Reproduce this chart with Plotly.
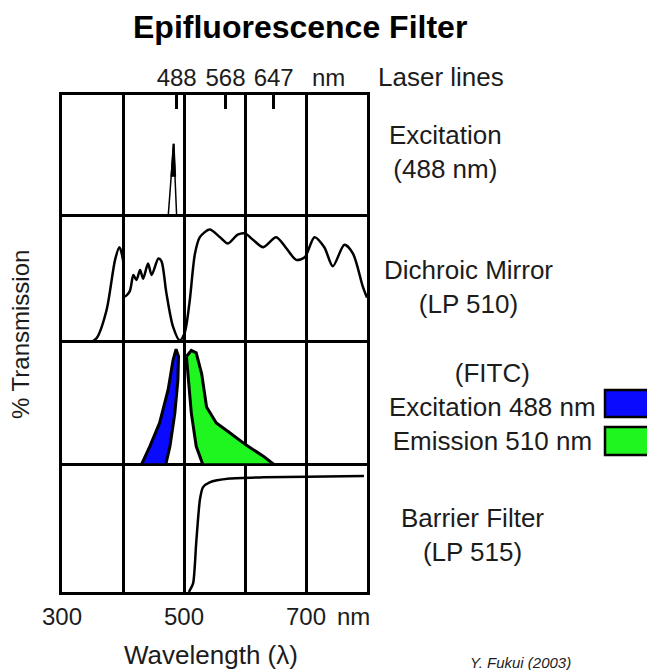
import plotly.graph_objects as go

# ---------------- data ----------------
laser_lines = [488, 568, 647]
laser_labels = ["488", "568", "647"]
x_ticks = [300, 400, 500, 600, 700]
x_tick_labels = ["300", "", "500", "", "700"]

# excitation laser line (488 nm) spike
ex_laser_nm = [474, 483, 488]
ex_laser_t = [0.0, 0.60, 0.0]
ex_core_nm = [479.5, 483, 485.5]
ex_core_t = [0.33, 0.60, 0.33]

# dichroic mirror (LP 510)
dichroic_nm = [349, 357, 373, 387, 394, 400, 403, 411, 417, 422, 428, 433, 441, 447,
               458, 463, 471, 482, 493, 501, 509, 518, 526, 542, 559, 572, 588, 600,
               613, 630, 651, 668, 684, 698, 714, 730, 744, 763, 777, 793, 800]
dichroic_t = [0.01, 0.04, 0.26, 0.66, 0.76, 0.66, 0.37, 0.41, 0.54, 0.50, 0.58, 0.51, 0.63, 0.54,
              0.67, 0.65, 0.40, 0.13, 0.02, 0.08, 0.32, 0.71, 0.84, 0.90, 0.84, 0.79, 0.86, 0.87,
              0.82, 0.76, 0.84, 0.75, 0.66, 0.68, 0.84, 0.76, 0.61, 0.78, 0.71, 0.45, 0.36]

# FITC excitation (blue) outline
fitc_ex_nm = [430, 444, 460, 474, 482, 487, 491, 490, 485, 477, 470, 430]
fitc_ex_t = [0.01, 0.16, 0.35, 0.62, 0.86, 0.95, 0.89, 0.70, 0.43, 0.16, 0.01, 0.01]

# FITC emission (green) outline
fitc_em_nm = [504, 512, 520, 529, 537, 553, 575, 602, 630, 648, 531, 520, 512, 507, 504]
fitc_em_t = [0.89, 0.94, 0.92, 0.75, 0.48, 0.35, 0.27, 0.17, 0.08, 0.01, 0.01, 0.16, 0.43, 0.70, 0.89]

# barrier filter (LP 515)
barrier_nm = [508, 515, 520, 526, 531, 542, 575, 630, 700, 795]
barrier_t = [0.0, 0.07, 0.39, 0.73, 0.83, 0.87, 0.90, 0.91, 0.915, 0.92]

# ---------------- styling ----------------
FONT = "Liberation Sans, Arial, sans-serif"
TXT = "#1c1c1c"
W, H = 647, 670
L, R, T, B = 62, 367, 95, 592   # plot-area pixel box
PW, PH = R - L, B - T


def pp(x, y):
    return dict(x=(x - L) / PW, y=(B - y) / PH, xref="paper", yref="paper")


fig = go.Figure()

# row 1 (top): excitation laser
fig.add_trace(go.Scatter(x=ex_laser_nm, y=ex_laser_t, mode="lines",
                         line=dict(color="black", width=1.5), xaxis="x4", yaxis="y4",
                         hoverinfo="skip", showlegend=False))
fig.add_trace(go.Scatter(x=ex_core_nm, y=ex_core_t, mode="lines", fill="toself",
                         fillcolor="black", line=dict(color="black", width=2),
                         xaxis="x4", yaxis="y4", hoverinfo="skip", showlegend=False))
# laser line labels (top axis)
fig.add_trace(go.Scatter(x=laser_lines, y=[1, 1, 1], mode="markers", marker=dict(opacity=0),
                         xaxis="x5", yaxis="y4", hoverinfo="skip", showlegend=False))

# row 2: dichroic mirror
fig.add_trace(go.Scatter(x=dichroic_nm, y=dichroic_t, mode="lines",
                         line=dict(color="black", width=2.5, shape="spline", smoothing=0.8),
                         xaxis="x3", yaxis="y3", hoverinfo="skip", showlegend=False))

# row 3: FITC
fig.add_trace(go.Scatter(x=fitc_ex_nm, y=fitc_ex_t, mode="lines", fill="toself",
                         fillcolor="#0a0aff", line=dict(color="black", width=3),
                         xaxis="x2", yaxis="y2", hoverinfo="skip", showlegend=False))
fig.add_trace(go.Scatter(x=fitc_em_nm, y=fitc_em_t, mode="lines", fill="toself",
                         fillcolor="#1ff51f", line=dict(color="black", width=3),
                         xaxis="x2", yaxis="y2", hoverinfo="skip", showlegend=False))

# row 4: barrier filter
fig.add_trace(go.Scatter(x=barrier_nm, y=barrier_t, mode="lines",
                         line=dict(color="black", width=2.5, shape="spline", smoothing=0.6),
                         xaxis="x", yaxis="y", hoverinfo="skip", showlegend=False))

bounds = [T, 217, 343, 466, B]
doms = [((B - bounds[i + 1]) / PH, (B - bounds[i]) / PH) for i in range(4)]
# doms[0] = top row ... doms[3] = bottom row

xcommon = dict(range=[300, 800], tickvals=x_ticks, showgrid=True, gridcolor="black",
               gridwidth=2.5, zeroline=False, showline=True, linecolor="black",
               linewidth=3, fixedrange=True)
ycommon = dict(range=[0, 1], showgrid=False, zeroline=False, showticklabels=False,
               showline=True, linecolor="black", linewidth=3, mirror=True, ticks="",
               fixedrange=True)

layout = dict(
    width=W, height=H,
    margin=dict(l=L, r=W - R, t=T, b=H - B),
    paper_bgcolor="white", plot_bgcolor="white",
    font=dict(family=FONT, color=TXT, size=24),
    xaxis=dict(**xcommon, anchor="y", mirror=True, ticktext=x_tick_labels, ticks="outside",
               ticklen=1, tickcolor="rgba(0,0,0,0)",
               tickfont=dict(size=24, family=FONT, color=TXT)),
    yaxis=dict(**ycommon, domain=list(doms[3]), anchor="x"),
    xaxis2=dict(**xcommon, anchor="y2", side="top", matches="x", showticklabels=False, ticks=""),
    yaxis2=dict(**ycommon, domain=list(doms[2]), anchor="x2"),
    xaxis3=dict(**xcommon, anchor="y3", side="top", matches="x", showticklabels=False, ticks=""),
    yaxis3=dict(**ycommon, domain=list(doms[1]), anchor="x3"),
    xaxis4=dict(**xcommon, anchor="y4", side="top", matches="x", showticklabels=False, ticks=""),
    yaxis4=dict(**ycommon, domain=list(doms[0]), anchor="x4"),
    xaxis5=dict(range=[300, 800], overlaying="x4", anchor="y4", side="top",
                tickvals=laser_lines, ticktext=laser_labels, ticks="inside",
                ticklen=14, tickwidth=2.5, tickcolor="black", showgrid=False,
                zeroline=False, showline=False, fixedrange=True, ticklabelstandoff=3,
                tickfont=dict(size=24, family=FONT, color=TXT)),
)
fig.update_layout(**layout)

annos = [
    ("<b>Epifluorescence Filter</b>", 300, 27, 32, "black", 0),
    ("nm", 328, 77, 24, TXT, 0),
    ("Laser lines", 441, 77, 26, TXT, 0),
    ("Excitation<br>(488 nm)", 445, 152, 26, TXT, 0),
    ("Dichroic Mirror<br>(LP 510)", 468, 287, 26, TXT, 0),
    ("(FITC)<br>Excitation 488 nm<br>Emission 510 nm", 492, 407, 26, TXT, 0),
    ("Barrier Filter<br>(LP 515)", 472, 535, 26, TXT, 0),
    ("nm", 353, 616, 24, TXT, 0),
    ("Wavelength (λ)", 211, 655, 26, TXT, 0),
    ("% Transmission", 20, 335, 24, TXT, -90),
    ("<i>Y. Fukui (2003)</i>", 520, 662, 15, TXT, 0),
]
for text, x, y, size, color, ang in annos:
    fig.add_annotation(**pp(x, y), text=text, showarrow=False, xanchor="center",
                       yanchor="middle", textangle=ang,
                       font=dict(size=size, family=FONT, color=color))

# legend swatches for FITC spectra
fig.add_shape(type="rect", xref="paper", yref="paper",
              x0=(605 - L) / PW, x1=(660 - L) / PW, y0=(B - 417) / PH, y1=(B - 390) / PH,
              fillcolor="#0a0aff", line=dict(color="black", width=2.5))
fig.add_shape(type="rect", xref="paper", yref="paper",
              x0=(605 - L) / PW, x1=(660 - L) / PW, y0=(B - 455) / PH, y1=(B - 427) / PH,
              fillcolor="#1ff51f", line=dict(color="black", width=2.5))

fig.write_html("out.html", config={"displayModeBar": False},
               post_script="document.body.style.margin='0';document.body.style.overflow='hidden';")
